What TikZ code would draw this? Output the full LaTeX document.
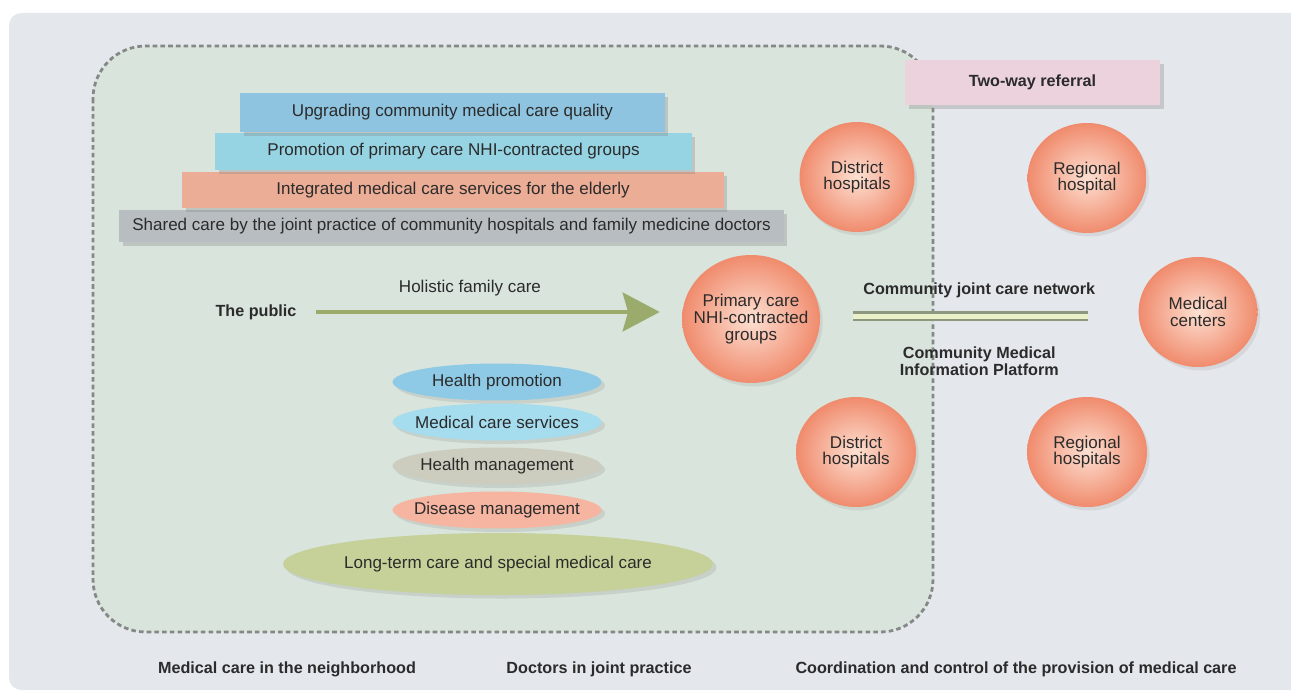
\documentclass[tikz,border=0pt]{standalone}
\usepackage{fontspec}
\setmainfont{Liberation Sans}
\usetikzlibrary{arrows.meta,shadows,shapes.geometric}

\definecolor{pagegray}{HTML}{E4E7EC}
\definecolor{zonegreen}{HTML}{D9E4DC}
\definecolor{dotgray}{HTML}{858986}
\definecolor{inkgray}{HTML}{2B2B2B}
\definecolor{qualblue}{HTML}{8EC4DF}
\definecolor{promcyan}{HTML}{96D3E3}
\definecolor{eldsalmon}{HTML}{EBAD96}
\definecolor{sharegray}{HTML}{B8BDC1}
\definecolor{referpink}{HTML}{ECD2DD}
\definecolor{ballin}{HTML}{FDE0D2}
\definecolor{ballout}{HTML}{F08B6D}
\definecolor{pathgreen}{HTML}{9AAB6C}
\definecolor{netgray}{HTML}{8E977F}
\definecolor{netpale}{HTML}{EAF0C8}
\definecolor{hpblue}{HTML}{8ECAE6}
\definecolor{mcsblue}{HTML}{A5DCEE}
\definecolor{hmgray}{HTML}{CCCDBE}
\definecolor{dmpink}{HTML}{F5B5A1}
\definecolor{ltolive}{HTML}{C5D199}

\begin{document}
\begin{tikzpicture}[x=0.02cm, y=-0.02cm,
  every node/.style={font=\fontsize{9.7}{9.5}\selectfont, text=inkgray, align=center},
  layer/.style={rectangle, inner sep=0pt, drop shadow={shadow xshift=2pt, shadow yshift=-2pt, opacity=0.3}},
  hospital/.style={ellipse, inner sep=0pt, minimum width=2.38cm, minimum height=2.2cm,
    shading=radial, inner color=ballin, outer color=ballout,
    drop shadow={shadow xshift=1.5pt, shadow yshift=-2pt, opacity=0.15}},
  service/.style={ellipse, inner sep=0pt, minimum width=4.18cm, minimum height=0.74cm,
    drop shadow={shadow xshift=2pt, shadow yshift=-2pt, opacity=0.2}},
  caption/.style={font=\fontsize{9.2}{9.5}\selectfont\bfseries}
]

  \useasboundingbox (0,0) rectangle (1291,692);

  \begin{scope}
    \clip (0,0) rectangle (1291,692);
    \fill[pagegray, rounded corners=7pt] (9,13) rectangle (1320,690);
  \end{scope}

  \filldraw[fill=zonegreen, draw=dotgray, line width=1.6pt, dash pattern=on 2.6pt off 1.8pt,
    rounded corners=30pt] (93,46) rectangle (933,632);

  \node[layer, fill=sharegray, minimum width=13.3cm, minimum height=0.64cm] (shared) at (451.5,226) {Shared care by the joint practice of community hospitals and family medicine doctors};

  \node[layer, fill=eldsalmon, minimum width=10.84cm, minimum height=0.72cm] (elderly) at (453,190) {Integrated medical care services for the elderly};

  \node[layer, fill=promcyan, minimum width=9.54cm, minimum height=0.74cm] (promotion) at (453.5,151.5) {Promotion of primary care NHI-contracted groups};

  \node[layer, fill=qualblue, minimum width=8.5cm, minimum height=0.78cm] (quality) at (452.5,112.5) {Upgrading community medical care quality};

  \node[layer, fill=referpink, minimum width=5.1cm, minimum height=0.9cm, caption] (referral) at (1032.5,82.5) {Two-way referral};

  \node[hospital, minimum width=2.3cm, label=center:{District\\hospitals}] (district1) at (857,177) {};

  \node[hospital, label=center:{Regional\\hospital}] (regional1) at (1087,178) {};

  \node[hospital, minimum width=2.76cm, minimum height=2.56cm, label=center:{Primary care\\NHI-contracted\\groups}] (primary) at (751,319) {};

  \node[hospital, label=center:{Medical\\centers}] (medical) at (1198,312) {};

  \node[hospital, minimum width=2.4cm, label=center:{District\\hospitals}] (district2) at (856,452) {};

  \node[hospital, minimum width=2.4cm, label=center:{Regional\\hospitals}] (regional2) at (1087,452) {};

  \node[caption, inner sep=0pt] (public) at (256,312) {The public};

  \draw[line width=2.6pt, pathgreen, -{Stealth[length=21pt, width=22pt, inset=3pt]},
    shorten <=0.38cm, shorten >=0.44cm] (public.east) -- (public.east -| primary.west)
    node[pos=0.45, yshift=0.48cm] {Holistic family care};

  \draw[draw=netgray, line width=1.6pt, double=netpale, double distance=2.8pt,
    shorten <=0.66cm, shorten >=1cm] ([yshift=1.6pt]primary.east) -- ([yshift=1.6pt]primary.east -| medical.west)
    node[midway, yshift=0.52cm, caption] {Community joint care network}
    node[midway, yshift=-0.9cm, caption] {Community Medical\\Information Platform};

  \node[service, fill=hpblue, label=center:{Health promotion}] (promote) at (497,382) {};

  \node[service, fill=mcsblue, label=center:{Medical care services}] (services) at (497,422) {};

  \node[service, fill=hmgray, label=center:{Health management}] (manage) at (497,466) {};

  \node[service, fill=dmpink, label=center:{Disease management}] (disease) at (497,510) {};

  \node[service, fill=ltolive, minimum width=8.6cm, minimum height=1.24cm, label=center:{Long-term care and special medical care}] (longterm) at (498,564) {};

  \node[caption] (neighborhood) at (287,669) {Medical care in the neighborhood};

  \node[caption] (doctors) at (599,669) {Doctors in joint practice};

  \node[caption] (coordination) at (1016,669) {Coordination and control of the provision of medical care};

\end{tikzpicture}
\end{document}
